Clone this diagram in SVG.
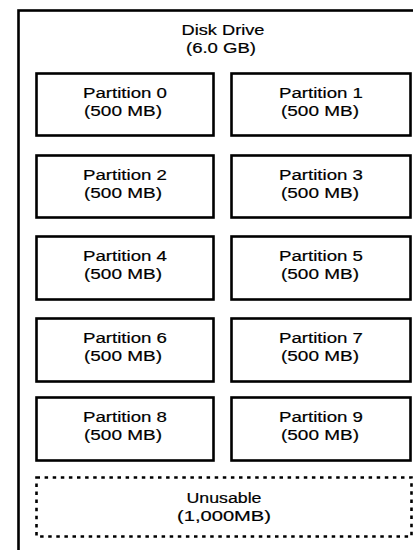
<svg xmlns="http://www.w3.org/2000/svg" width="413" height="550" viewBox="0 0 413 550">
<style>
.box{fill:none;stroke:#000;stroke-width:2.6}
.dot{fill:none;stroke:#000;stroke-width:2.6;stroke-dasharray:3.5 4.6}
text{font-family:"Liberation Sans",Arial,sans-serif;font-size:15.5px;fill:#000;stroke:#000;stroke-width:0.2;text-anchor:middle}
</style>
<rect width="413" height="550" fill="#fff"/>
<g id="disk">
<rect class="box" x="18.5" y="10.5" width="420" height="560"/>
<text x="223" y="35" textLength="83" lengthAdjust="spacingAndGlyphs">Disk Drive</text>
<text x="221" y="53" textLength="70" lengthAdjust="spacingAndGlyphs">(6.0 GB)</text>
</g>
<g id="p0"><rect class="box" x="36.5" y="73.5" width="177" height="62"/><text x="125" y="98" textLength="84" lengthAdjust="spacingAndGlyphs">Partition 0</text><text x="123" y="116" textLength="78" lengthAdjust="spacingAndGlyphs">(500 MB)</text></g>
<g id="p1"><rect class="box" x="231.5" y="73.5" width="179" height="62"/><text x="321" y="98" textLength="84" lengthAdjust="spacingAndGlyphs">Partition 1</text><text x="320" y="116" textLength="78" lengthAdjust="spacingAndGlyphs">(500 MB)</text></g>
<g id="p2"><rect class="box" x="36.5" y="155.5" width="177" height="62"/><text x="125" y="180" textLength="84" lengthAdjust="spacingAndGlyphs">Partition 2</text><text x="123" y="198" textLength="78" lengthAdjust="spacingAndGlyphs">(500 MB)</text></g>
<g id="p3"><rect class="box" x="231.5" y="155.5" width="179" height="62"/><text x="321" y="180" textLength="84" lengthAdjust="spacingAndGlyphs">Partition 3</text><text x="320" y="198" textLength="78" lengthAdjust="spacingAndGlyphs">(500 MB)</text></g>
<g id="p4"><rect class="box" x="36.5" y="236.5" width="177" height="63"/><text x="125" y="261" textLength="84" lengthAdjust="spacingAndGlyphs">Partition 4</text><text x="123" y="279" textLength="78" lengthAdjust="spacingAndGlyphs">(500 MB)</text></g>
<g id="p5"><rect class="box" x="231.5" y="236.5" width="179" height="63"/><text x="321" y="261" textLength="84" lengthAdjust="spacingAndGlyphs">Partition 5</text><text x="320" y="279" textLength="78" lengthAdjust="spacingAndGlyphs">(500 MB)</text></g>
<g id="p6"><rect class="box" x="36.5" y="318.5" width="177" height="63"/><text x="125" y="343" textLength="84" lengthAdjust="spacingAndGlyphs">Partition 6</text><text x="123" y="361" textLength="78" lengthAdjust="spacingAndGlyphs">(500 MB)</text></g>
<g id="p7"><rect class="box" x="231.5" y="318.5" width="179" height="63"/><text x="321" y="343" textLength="84" lengthAdjust="spacingAndGlyphs">Partition 7</text><text x="320" y="361" textLength="78" lengthAdjust="spacingAndGlyphs">(500 MB)</text></g>
<g id="p8"><rect class="box" x="36.5" y="397.5" width="177" height="63"/><text x="125" y="422" textLength="84" lengthAdjust="spacingAndGlyphs">Partition 8</text><text x="123" y="440" textLength="78" lengthAdjust="spacingAndGlyphs">(500 MB)</text></g>
<g id="p9"><rect class="box" x="231.5" y="397.5" width="179" height="63"/><text x="321" y="422" textLength="84" lengthAdjust="spacingAndGlyphs">Partition 9</text><text x="320" y="440" textLength="78" lengthAdjust="spacingAndGlyphs">(500 MB)</text></g>
<g id="unusable"><rect class="dot" x="36.5" y="477.5" width="375" height="59"/><text x="224" y="503" textLength="75" lengthAdjust="spacingAndGlyphs">Unusable</text><text x="224" y="521" textLength="94" lengthAdjust="spacingAndGlyphs">(1,000MB)</text></g>
<g id="connectors"/>
</svg>
